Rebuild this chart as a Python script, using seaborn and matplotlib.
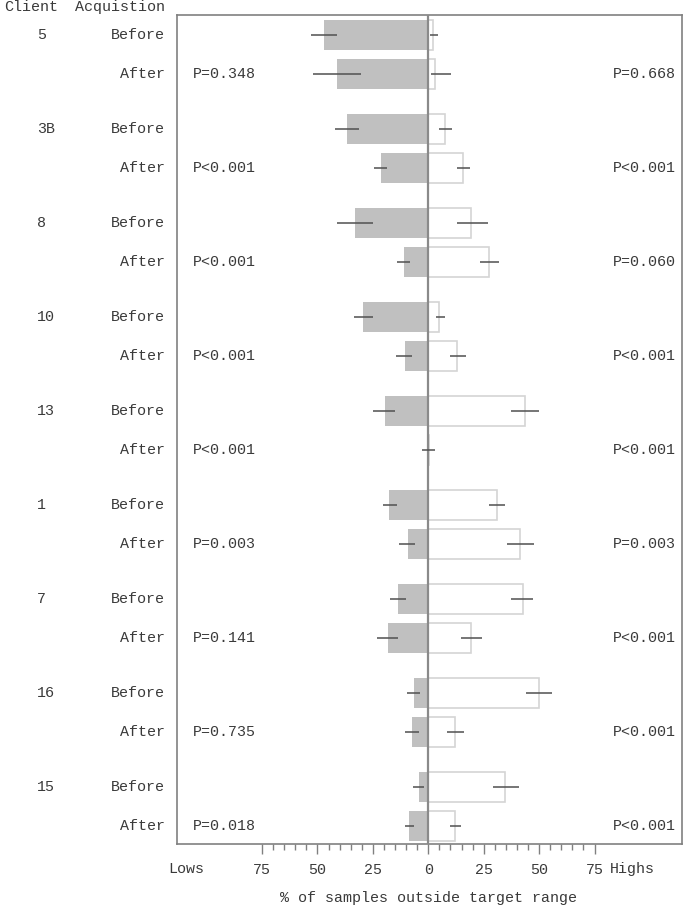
import numpy as np
import pandas as pd
import matplotlib
matplotlib.use("Agg")
import matplotlib.pyplot as plt
import matplotlib.transforms as mtransforms
from matplotlib.ticker import FixedLocator, FuncFormatter
import seaborn as sns

# ---------------- data ----------------
clients = ['5', '3B', '8', '10', '13', '1', '7', '16', '15']
phases = ['Before', 'After']

# % of samples below target range (Before, After per client)
low_before = [47.1, 36.8, 33.0, 29.4, 19.7, 17.6, 13.7, 6.5, 4.1]
low_after = [41.0, 21.5, 11.1, 10.7, 0.0, 9.3, 18.0, 7.4, 8.7]
low_before_ci_lo = [41.0, 31.4, 25.1, 25.1, 14.9, 14.3, 10.2, 3.9, 1.8]
low_before_ci_hi = [53.0, 41.9, 41.4, 33.6, 24.9, 20.6, 17.1, 9.6, 7.1]
low_after_ci_lo = [30.5, 18.5, 8.3, 7.2, 0.0, 5.9, 13.5, 4.4, 6.5]
low_after_ci_hi = [52.1, 24.5, 14.3, 14.4, 3.0, 13.4, 23.1, 10.5, 10.7]

# % of samples above target range
high_before = [2.1, 7.4, 19.2, 5.0, 43.8, 30.9, 42.5, 49.8, 34.8]
high_after = [3.0, 15.8, 27.3, 12.9, 0.5, 41.3, 19.2, 12.0, 12.0]
high_before_ci_lo = [0.8, 5.0, 13.1, 3.3, 37.5, 27.2, 37.5, 44.1, 29.1]
high_before_ci_hi = [4.4, 10.5, 26.7, 7.4, 50.0, 34.7, 47.3, 55.6, 40.8]
high_after_ci_lo = [1.0, 13.1, 23.1, 9.6, 0.0, 35.4, 14.6, 8.4, 9.6]
high_after_ci_hi = [10.1, 18.8, 31.8, 17.1, 3.0, 47.7, 24.3, 15.9, 14.6]

p_lows = ['P=0.348', 'P<0.001', 'P<0.001', 'P<0.001', 'P<0.001',
          'P=0.003', 'P=0.141', 'P=0.735', 'P=0.018']
p_highs = ['P=0.668', 'P<0.001', 'P=0.060', 'P<0.001', 'P<0.001',
           'P=0.003', 'P<0.001', 'P<0.001', 'P<0.001']

major_ticks = [-75, -50, -25, 0, 25, 50, 75]

# ---------------- layout ----------------
GROUP_PITCH = 94 / 39.0
rows = []
for g, c in enumerate(clients):
    for k, ph in enumerate(phases):
        if ph == 'Before':
            lo, hi = low_before, high_before
            llo, lhi = low_before_ci_lo, low_before_ci_hi
            hlo, hhi = high_before_ci_lo, high_before_ci_hi
        else:
            lo, hi = low_after, high_after
            llo, lhi = low_after_ci_lo, low_after_ci_hi
            hlo, hhi = high_after_ci_lo, high_after_ci_hi
        rows.append(dict(client=c, phase=ph, pos=g * GROUP_PITCH + k,
                         low=-lo[g], high=hi[g],
                         low_lo=-lhi[g], low_hi=-llo[g],
                         high_lo=hlo[g], high_hi=hhi[g]))
df = pd.DataFrame(rows)

sns.set_theme(style="white")
FONT = ['Liberation Mono', 'DejaVu Sans Mono']
plt.rcParams['font.family'] = FONT
TXT = '#3a3a3a'
FS = 10.8
GRAY = '#808080'

fig = plt.figure(figsize=(6.86, 9.08), dpi=100)
ax = fig.add_axes([176.7 / 686, 1 - 844 / 908, (681.7 - 176.7) / 686, (844 - 14.7) / 908])

sns.barplot(data=df, x='low', y='pos', orient='y', native_scale=True,
            width=0.79, color='#c0c0c0', saturation=1, errorbar=None,
            linewidth=0, ax=ax)
sns.barplot(data=df, x='high', y='pos', orient='y', native_scale=True,
            width=0.79, color='white', saturation=1, errorbar=None,
            edgecolor='#d4d4d4', linewidth=1.2, ax=ax)

ax.hlines(df['pos'], df['low_lo'], df['low_hi'], color='#505050', lw=1.1, zorder=5)
ax.hlines(df['pos'], df['high_lo'], df['high_hi'], color='#505050', lw=1.1, zorder=5)
ax.axvline(0, color='#8a8a8a', lw=1.6, zorder=4)

last = df['pos'].max()
ax.set_ylim(last + 18 / 39.0, -20.3 / 39.0)
ax.set_xlim(-113.5, 114.3)

for s in ax.spines.values():
    s.set_color(GRAY)
    s.set_linewidth(1.2)

ax.set_yticks([])
ax.set_ylabel('')
ax.set_xlabel('')
ax.xaxis.set_major_locator(FixedLocator(major_ticks))
ax.xaxis.set_minor_locator(FixedLocator([v for v in range(-75, 80, 5) if v % 25 != 0]))
ax.xaxis.set_major_formatter(FuncFormatter(lambda v, p: f"{abs(int(v))}"))
ax.tick_params(axis='x', which='major', direction='out', length=7, width=1,
               color=GRAY, labelsize=FS, labelcolor=TXT, pad=7, bottom=True)
ax.tick_params(axis='x', which='minor', direction='out', length=4, width=1,
               color=GRAY, bottom=True)
for lab in ax.get_xticklabels():
    lab.set_family(FONT)

# left labels
tr = mtransforms.blended_transform_factory(fig.transFigure, ax.transData)
for g, c in enumerate(clients):
    yb = g * GROUP_PITCH
    fig.text(37 / 686, 0, c, transform=tr, ha='left', va='center', fontsize=FS, color=TXT)
    # place via transform with data y
for _, r in df.iterrows():
    pass

texts_tr = tr
for g, c in enumerate(clients):
    yb = g * GROUP_PITCH
    ax.texts  # noqa
for t in list(fig.texts):
    t.remove()

for g, c in enumerate(clients):
    yb = g * GROUP_PITCH
    ax.text(37 / 686, yb, c, transform=tr, ha='left', va='center',
            fontsize=FS, color=TXT, clip_on=False)
    ax.text(165 / 686, yb, 'Before', transform=tr, ha='right', va='center',
            fontsize=FS, color=TXT, clip_on=False)
    ax.text(165 / 686, yb + 1, 'After', transform=tr, ha='right', va='center',
            fontsize=FS, color=TXT, clip_on=False)

tr2 = mtransforms.blended_transform_factory(ax.transAxes, ax.transData)
for g in range(len(clients)):
    ya = g * GROUP_PITCH + 1
    ax.text(0.032, ya, p_lows[g], transform=tr2, ha='left', va='center',
            fontsize=FS, color=TXT)
    ax.text(0.989, ya, p_highs[g], transform=tr2, ha='right', va='center',
            fontsize=FS, color=TXT)

fig.text(4 / 686, 1 - 7 / 908, 'Client', ha='left', va='center', fontsize=FS, color=TXT)
fig.text(165 / 686, 1 - 7 / 908, 'Acquistion', ha='right', va='center', fontsize=FS, color=TXT)
fig.text(186 / 686, 1 - 869 / 908, 'Lows', ha='center', va='center', fontsize=FS, color=TXT)
fig.text(632.5 / 686, 1 - 869 / 908, 'Highs', ha='center', va='center', fontsize=FS, color=TXT)
fig.text(428.5 / 686, 1 - 898 / 908, '% of samples outside target range',
         ha='center', va='center', fontsize=FS, color=TXT)

fig.savefig('out.png', dpi=100, facecolor='white')
